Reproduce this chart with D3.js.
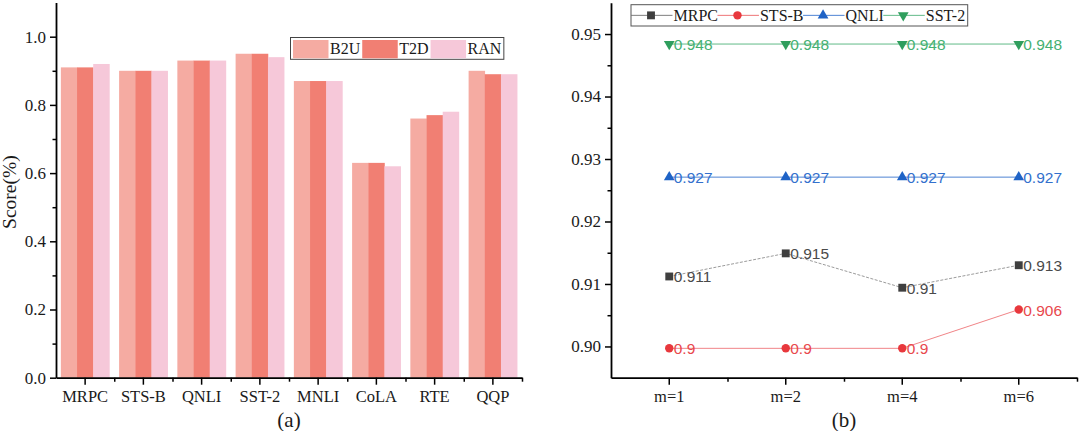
<!DOCTYPE html>
<html>
<head>
<meta charset="utf-8">
<script src="https://cdn.jsdelivr.net/npm/d3@7"></script>
<style>
  html, body { margin: 0; padding: 0; background: #fff; }
  svg { display: block; }
  .serif { font-family: "Liberation Serif", "Times New Roman", serif; }
  .sans { font-family: "Liberation Sans", Arial, sans-serif; }
</style>
</head>
<body>
<svg id="chart" width="1080" height="431"></svg>
<script>
// ---------- data: panel (a) ----------
const categories = ["MRPC", "STS-B", "QNLI", "SST-2", "MNLI", "CoLA", "RTE", "QQP"];
const barSeries = ["B2U", "T2D", "RAN"];
const b2u = [0.91, 0.90, 0.93, 0.95, 0.87, 0.63, 0.76, 0.90];
const t2d = [0.91, 0.90, 0.93, 0.95, 0.87, 0.63, 0.77, 0.89];
const ran = [0.92, 0.90, 0.93, 0.94, 0.87, 0.62, 0.78, 0.89];
const leftTicks = [0.0, 0.2, 0.4, 0.6, 0.8, 1.0];
const leftMinorTicks = [0.1, 0.3, 0.5, 0.7, 0.9];

// ---------- data: panel (b) ----------
const mCats = ["m=1", "m=2", "m=4", "m=6"];
const lineSeries = ["MRPC", "STS-B", "QNLI", "SST-2"];
const mrpcVals = [0.9112, 0.9149, 0.9094, 0.9130];
const mrpcLabels = ["0.911", "0.915", "0.91", "0.913"];
const stsbVals = [0.8997, 0.8997, 0.8997, 0.9059];
const stsbLabels = ["0.9", "0.9", "0.9", "0.906"];
const qnliVals = [0.9271, 0.9271, 0.9271, 0.9271];
const qnliLabels = ["0.927", "0.927", "0.927", "0.927"];
const sst2Vals = [0.9484, 0.9484, 0.9484, 0.9484];
const sst2Labels = ["0.948", "0.948", "0.948", "0.948"];
const rightTicks = [0.90, 0.91, 0.92, 0.93, 0.94, 0.95];
const rightMinorTicks = [0.905, 0.915, 0.925, 0.935, 0.945];

// ---------- styles ----------
const barColors = { "B2U": "#f5aba2", "T2D": "#f17f73", "RAN": "#f6c8d9" };
const lineStyle = {
  "MRPC":  { color: "#3f3f3f", line: "#707070", text: "#4a4a4a", symbol: d3.symbolSquare, size: 62, rot: 0, dash: "3,1.5", width: 0.7 },
  "STS-B": { color: "#e8383d", line: "#ec6468", text: "#e8484d", symbol: d3.symbolCircle, size: 56, rot: 0, dash: null, width: 0.8 },
  "QNLI":  { color: "#1f63c6", line: "#3b76cf", text: "#3370cd", symbol: d3.symbolTriangle, size: 50, rot: 0, dash: null, width: 0.9 },
  "SST-2": { color: "#2f9e5d", line: "#4fb27a", text: "#45b072", symbol: d3.symbolTriangle, size: 50, rot: 180, dash: null, width: 0.9 }
};

const svg = d3.select("#chart");

// ======================= panel (a) =======================
const L = { x0: 56, x1: 522, yTop: 2.6, yBot: 377.7 };
const xL = d3.scaleBand().domain(categories).range([L.x0, L.x1]).paddingInner(0).paddingOuter(0);
const xInner = d3.scaleBand().domain(barSeries).range([0, xL.bandwidth()]).paddingInner(0).paddingOuter(0.3);
const yL = d3.scaleLinear().domain([0, 1.1]).range([L.yBot, L.yTop]);

const barData = categories.map((c, i) => ({ cat: c, vals: { "B2U": b2u[i], "T2D": t2d[i], "RAN": ran[i] } }));
const gBars = svg.append("g");
barData.forEach(d => {
  barSeries.forEach(s => {
    gBars.append("rect")
      .attr("x", xL(d.cat) + xInner(s))
      .attr("width", xInner.bandwidth() + 0.3)
      .attr("y", yL(d.vals[s]))
      .attr("height", yL(0) - yL(d.vals[s]))
      .attr("fill", barColors[s]);
  });
});

function styleAxis(g, fontSize) {
  g.attr("font-family", null).attr("font-size", null);
  g.selectAll("path.domain").attr("stroke", "#000").attr("stroke-width", 1.8);
  g.selectAll(".tick line").attr("stroke", "#000").attr("stroke-width", 1.5);
  g.selectAll("text").attr("class", "serif").attr("fill", "#1a1a1a").style("font-size", fontSize + "px");
}

// left y axis
const gYL = svg.append("g").attr("transform", `translate(${L.x0},0)`)
  .call(d3.axisLeft(yL).tickValues(leftTicks).tickSize(6).tickSizeOuter(0).tickPadding(4).tickFormat(d3.format(".1f")));
styleAxis(gYL, 17);
const gYLm = svg.append("g").attr("transform", `translate(${L.x0},0)`)
  .call(d3.axisLeft(yL).tickValues(leftMinorTicks).tickSize(3.5).tickFormat(""));
gYLm.select("path.domain").remove();
styleAxis(gYLm, 16);

// left x axis
const gXL = svg.append("g").attr("transform", `translate(0,${L.yBot})`)
  .call(d3.axisBottom(xL).tickSize(7).tickSizeOuter(0).tickPadding(6));
styleAxis(gXL, 16.5);
const xLbound = d3.scaleLinear().domain([0, categories.length]).range([L.x0, L.x1]);
const gXLm = svg.append("g").attr("transform", `translate(0,${L.yBot})`)
  .call(d3.axisBottom(xLbound).tickValues(d3.range(1, categories.length + 1)).tickSize(4).tickFormat(""));
gXLm.select("path.domain").remove();
styleAxis(gXLm, 16);

// y label
svg.append("text").attr("class", "serif")
  .attr("transform", `translate(16,${(L.yTop + L.yBot) / 2 + 2}) rotate(-90)`)
  .attr("text-anchor", "middle")
  .style("font-size", "19.5px").attr("fill", "#1a1a1a")
  .text("Score(%)");

// (a)
svg.append("text").attr("class", "serif")
  .attr("x", (L.x0 + L.x1) / 2).attr("y", 427)
  .attr("text-anchor", "middle").style("font-size", "21px").attr("fill", "#1a1a1a")
  .text("(a)");

// legend (a)
const legA = svg.append("g");
const legAx = 290.5, legAy = 37.5, legAh = 21.8;
const legABox = legA.append("rect").attr("x", legAx).attr("y", legAy).attr("height", legAh)
  .attr("fill", "#fff").attr("stroke", "#444").attr("stroke-width", 1);
let cur = legAx + 2.5;
barSeries.forEach(s => {
  legA.append("rect").attr("x", cur).attr("y", legAy + 2.5).attr("width", 35.5).attr("height", 18.3)
    .attr("fill", barColors[s]);
  const t = legA.append("text").attr("class", "serif")
    .attr("x", cur + 37).attr("y", legAy + legAh / 2)
    .attr("dominant-baseline", "central")
    .style("font-size", "16px").attr("fill", "#1a1a1a").text(s);
  cur = cur + 37 + t.node().getComputedTextLength() + 2;
});
legABox.attr("width", cur - legAx + 0.5);

// ======================= panel (b) =======================
const R = { x0: 611, x1: 1077, yTop: 2.8, yBot: 377.7 };
const xR = d3.scaleBand().domain(mCats).range([R.x0, R.x1]).padding(0);
const yR = d3.scaleLinear().domain([0.895, 0.955]).range([R.yBot, R.yTop]);

const seriesData = {
  "MRPC": { vals: mrpcVals, labels: mrpcLabels },
  "STS-B": { vals: stsbVals, labels: stsbLabels },
  "QNLI": { vals: qnliVals, labels: qnliLabels },
  "SST-2": { vals: sst2Vals, labels: sst2Labels }
};

// axes (b)
const gYR = svg.append("g").attr("transform", `translate(${R.x0},0)`)
  .call(d3.axisLeft(yR).tickValues(rightTicks).tickSize(6).tickSizeOuter(0).tickPadding(4).tickFormat(d3.format(".2f")));
styleAxis(gYR, 17);
const gYRm = svg.append("g").attr("transform", `translate(${R.x0},0)`)
  .call(d3.axisLeft(yR).tickValues(rightMinorTicks).tickSize(3.5).tickFormat(""));
gYRm.select("path.domain").remove();
styleAxis(gYRm, 16);

const gXR = svg.append("g").attr("transform", `translate(0,${R.yBot})`)
  .call(d3.axisBottom(xR).tickSize(7).tickSizeOuter(0).tickPadding(6));
styleAxis(gXR, 16.5);
const xRbound = d3.scaleLinear().domain([0, mCats.length]).range([R.x0, R.x1]);
const gXRm = svg.append("g").attr("transform", `translate(0,${R.yBot})`)
  .call(d3.axisBottom(xRbound).tickValues(d3.range(1, mCats.length + 1)).tickSize(4).tickFormat(""));
gXRm.select("path.domain").remove();
styleAxis(gXRm, 16);

// lines, markers, labels
const cx = m => xR(m) + xR.bandwidth() / 2;
lineSeries.forEach(name => {
  const st = lineStyle[name];
  const sd = seriesData[name];
  const pts = mCats.map((m, i) => ({ m, v: sd.vals[i], lab: sd.labels[i] }));
  const line = d3.line().x(d => cx(d.m)).y(d => yR(d.v));
  svg.append("path").datum(pts).attr("d", line)
    .attr("fill", "none").attr("stroke", st.line).attr("stroke-width", st.width)
    .attr("stroke-dasharray", st.dash);
  const sym = d3.symbol().type(st.symbol).size(st.size);
  pts.forEach(p => {
    svg.append("path").attr("d", sym())
      .attr("transform", `translate(${cx(p.m)},${yR(p.v)}) rotate(${st.rot})`)
      .attr("fill", st.color);
    svg.append("text").attr("class", "sans")
      .attr("x", cx(p.m) + 4.5).attr("y", yR(p.v) + 0.5)
      .attr("dominant-baseline", "central")
      .style("font-size", "15.5px").attr("fill", st.text).text(p.lab);
  });
});

// legend (b)
const legB = svg.append("g");
const legBx = 631, legBy = 4.7, legBh = 21.3;
const legBBox = legB.append("rect").attr("x", legBx).attr("y", legBy).attr("height", legBh)
  .attr("fill", "#fff").attr("stroke", "#555").attr("stroke-width", 1);
let s = legBx;
lineSeries.forEach(name => {
  const st = lineStyle[name];
  const yc = legBy + legBh / 2;
  legB.append("line").attr("x1", s).attr("x2", s + 41.5).attr("y1", yc).attr("y2", yc)
    .attr("stroke", st.line).attr("stroke-width", 0.9);
  legB.append("path").attr("d", d3.symbol().type(st.symbol).size(st.size)())
    .attr("transform", `translate(${s + 20},${yc}) rotate(${st.rot})`).attr("fill", st.color);
  const t = legB.append("text").attr("class", "serif")
    .attr("x", s + 42.5).attr("y", yc)
    .attr("dominant-baseline", "central")
    .style("font-size", "16px").attr("fill", "#1a1a1a").text(name);
  s = s + 42.5 + t.node().getComputedTextLength() - 0.5;
});
legBBox.attr("width", s - legBx + 3);

// (b)
svg.append("text").attr("class", "serif")
  .attr("x", (R.x0 + R.x1) / 2).attr("y", 427)
  .attr("text-anchor", "middle").style("font-size", "21px").attr("fill", "#1a1a1a")
  .text("(b)");
</script>
</body>
</html>
